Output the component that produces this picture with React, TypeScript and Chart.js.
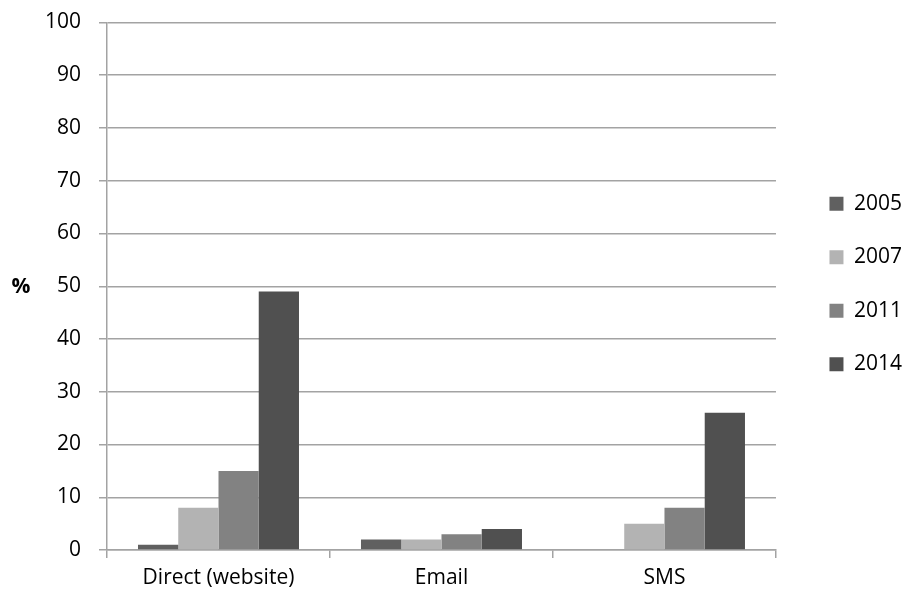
import React, { useEffect, useRef } from "react";
import { Chart, registerables } from "chart.js";

Chart.register(...registerables);

const categories = ["Direct (website)", "Email", "SMS"];
const seriesLabels = ["2005", "2007", "2011", "2014"];
const values2005 = [1, 2, 0];
const values2007 = [8, 2, 5];
const values2011 = [15, 3, 8];
const values2014 = [49, 4, 26];
const seriesColors = ["#606060", "#b3b3b3", "#828282", "#505050"];
const yTicks = { min: 0, max: 100, step: 10 };
const yAxisLabel = "%";

const FONT = "'Open Sans', sans-serif";
const GRID = "#a3a3a3";

export default function App() {
  const ref = useRef<HTMLCanvasElement | null>(null);
  useEffect(() => {
    if (!ref.current) return;
    const series = [values2005, values2007, values2011, values2014];
    const labelPlugin = {
      id: "yLabel",
      afterLayout(chart: any) {
        const l = chart.legend;
        if (l) {
          l.left += 21;
          l.right += 21;
          l.top -= 25.25;
          l.bottom -= 25.25;
        }
      },
      afterDraw(chart: any) {
        const ctx = chart.ctx;
        const a = chart.chartArea;
        ctx.save();
        ctx.font = `bold 21px ${FONT}`;
        ctx.fillStyle = "#000";
        ctx.textAlign = "center";
        ctx.textBaseline = "middle";
        ctx.fillText(yAxisLabel, 21, (a.top + a.bottom) / 2 + 1);
        ctx.restore();
      },
    };
    const chart = new Chart(ref.current, {
      type: "bar",
      data: {
        labels: categories,
        datasets: series.map((d, i) => ({
          label: seriesLabels[i],
          data: d,
          backgroundColor: seriesColors[i],
          borderWidth: 0,
          barPercentage: 1,
          categoryPercentage: 0.722,
        })),
      },
      options: {
        animation: false,
        responsive: true,
        maintainAspectRatio: false,
        layout: { padding: { top: 22.5, left: 0, right: 14, bottom: 0 } },
        font: { family: FONT },
        plugins: {
          tooltip: { enabled: false },
          legend: {
            position: "right",
            labels: {
              font: { family: FONT, size: 21 },
              color: "#000",
              boxWidth: 14,
              boxHeight: 14,
              padding: 32.5,
            },
          },
        },
        scales: {
          x: {
            afterFit(s: any) {
              s.height = 46;
            },
            grid: {
              display: true,
              offset: true,
              drawOnChartArea: false,
              drawTicks: true,
              tickLength: 8,
              color: GRID,
              lineWidth: 1.5,
            },
            border: { color: GRID, width: 1.5 },
            ticks: {
              font: { family: FONT, size: 21 },
              color: "#000",
              padding: 7,
            },
          },
          y: {
            min: yTicks.min,
            max: yTicks.max,
            afterFit(s: any) {
              s.width = 107;
              s.paddingTop = 0;
              s.paddingBottom = 0;
            },
            grid: {
              color: GRID,
              lineWidth: 1.5,
              tickLength: 8,
            },
            border: { color: GRID, width: 1.5 },
            ticks: {
              stepSize: yTicks.step,
              font: { family: FONT, size: 21 },
              color: "#000",
              padding: 18,
            },
          },
        },
      },
      plugins: [labelPlugin],
    });
    return () => chart.destroy();
  }, []);
  return (
    <div style={{ position: "fixed", left: 0, top: 0, width: 905, height: 596, background: "#fff" }}>
      <canvas ref={ref} />
    </div>
  );
}
